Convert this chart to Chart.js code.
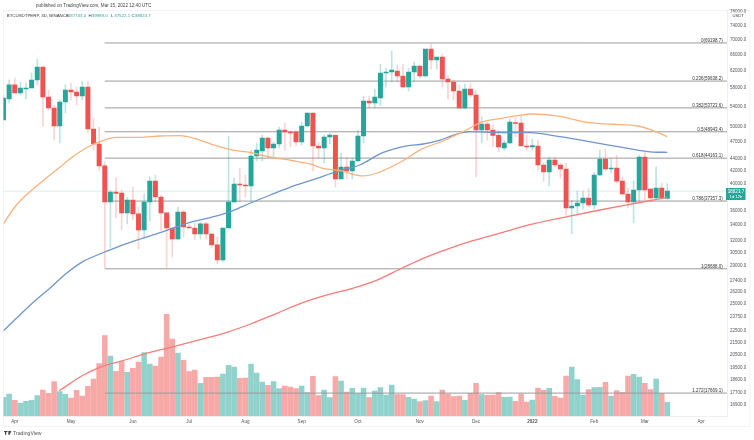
<!DOCTYPE html>
<html>
<head>
<meta charset="utf-8">
<style>
	html, body { margin: 0; padding: 0; background: #fff; overflow: hidden; }
	canvas { display: block; }
</style>
<script src="https://cdn.jsdelivr.net/npm/chart.js@4"></script>
</head>
<body>
<canvas id="bieuDo" width="754" height="440"></canvas>
<script>
// 3D candles, one row per bar
var opens = [51240,55620,58750,56940,57830,58060,59890,63010,56060,53700,50060,54980,57600,57160,56280,58290,49480,46670,42840,37220,38700,38550,35670,37510,35530,33370,37220,40390,37960,35670,33640,32230,35800,33770,33640,32860,34170,32860,31490,29690,33640,37220,39930,39770,39620,44540,45410,47780,45940,46670,49280,48900,48900,47040,50060,52670,46310,45940,47960,48250,40710,42670,42010,43670,48150,55190,54760,55840,61560,61790,62030,60840,58290,61790,63260,60840,67590,64750,65520,60130,59430,57380,53700,57830,56500,49280,50460,49280,48250,45940,46850,50650,50650,46310,46130,46310,43000,41840,43840,43000,42340,36370,36650,37080,37810,36790,41360,44010,42340,42500,40390,38400,37220,39000,44360,39150,37810,39310,37743];
var highs = [56500,59890,60370,59430,59200,61560,65010,63260,57600,54340,55400,58750,59200,58290,59660,59660,51650,49870,43510,39000,40880,39000,37960,39460,36510,38400,41040,41360,38250,35670,33640,36510,36080,34040,34300,34430,34430,32990,32480,33640,48150,40880,42500,41360,45580,46850,48340,47960,47040,49870,50650,49090,49280,50850,52670,52670,47040,48340,48720,48340,45060,44360,44190,49280,56280,56280,57830,63760,62770,67060,63510,63760,62770,64260,63510,67590,68930,65520,66290,61080,59890,58750,58970,59200,57600,51850,50850,50260,49280,47400,51440,51650,52060,48340,47590,47400,43340,44360,44360,43340,43340,37510,38850,38850,39310,41840,45580,45760,44010,44710,41040,39310,40390,44710,45230,39310,42670,40080,39989];
var lows = [51240,54760,56940,56500,55620,58060,58750,50060,53280,47400,46850,52670,55400,54340,55400,48720,45580,42170,28790,31120,34980,33370,34170,34700,30990,32350,34570,37220,33370,28790,30040,32100,32480,33640,32100,32230,32230,31120,29240,29460,33640,37080,37220,37960,37220,43670,43670,44190,44190,45940,45580,46130,46310,46490,49870,42010,44190,43340,46670,39460,40710,40710,40710,43670,46850,53700,53700,54130,58290,59430,59430,58060,57380,59430,60370,60600,62520,62520,58290,55620,55400,53700,53490,56060,41040,46850,47400,46130,45230,45580,46670,47960,46310,45580,45580,42170,40390,39620,42670,40880,35390,32860,35390,36220,36510,36220,41200,42010,41680,40080,38250,36370,34300,37220,37510,37220,37810,37660,37522.1];
var closes = [55840,58750,56940,58060,58060,59890,63010,56060,53700,50060,54980,57600,57160,56280,58290,49480,46670,42840,37220,38700,38480,35670,37510,35530,33370,37220,40390,37960,35670,33640,32230,35800,33770,33640,32860,34170,32860,31490,29690,33640,37220,39930,39770,39620,44540,45580,47780,45940,46670,49280,48900,48720,47040,50060,52670,46310,45940,47960,48340,40710,42670,42010,43670,48150,55190,54760,56060,61560,61790,62270,60840,58290,61790,63260,60840,67590,64750,65520,60130,59430,57380,53700,57830,56500,49280,50460,49280,48250,46130,46850,50850,50550,46310,46130,46370,43000,41840,43840,43000,42340,36370,36650,37080,37810,36790,41360,44010,42340,42500,40390,38400,37220,39000,44360,39000,37810,39310,37810,38823.7];

// volume, no scale on the chart so units are arbitrary
var volumes = [18.7,22,15.7,13,14.7,15.7,20.3,26,22.7,34.3,24.3,21.7,18,25.7,20,29.7,37,52.3,80.3,60,44.7,54.3,43.7,47.7,54,63.3,52,50,59,101.7,77,63,55.7,44.3,46,32.7,38.7,38.7,39,42,50.7,49,37.7,38,52,43,34,30.7,34.3,27.3,30,29,27.3,30,23.3,39.7,20.3,26,18.3,39.3,35,24,27.7,22.7,28,18.3,25,28.3,21,31,21.3,21.3,18.7,17,14.3,15.3,20,14.3,26,22,19.3,20,15.7,22.7,32.7,21.3,20.7,21,23.3,18.7,19,14.7,22,14,16,28,25.7,27.7,19.7,18,40,49,36.3,21,26.3,28.3,28.7,33.7,20,25.3,23.7,40,41.7,39,32.7,26.3,37,22.7,13.7];
var volumeUp = [1,1,0,1,1,1,1,0,0,0,1,1,0,0,0,0,0,0,0,1,0,0,1,0,0,1,1,0,0,0,0,1,0,0,0,1,0,0,0,1,1,1,0,0,1,1,1,0,1,1,0,0,0,1,1,0,0,1,1,0,1,0,1,1,1,0,1,1,1,1,0,0,1,1,0,1,0,1,0,0,0,0,1,0,0,1,0,0,0,1,1,0,0,0,1,0,0,1,0,0,0,1,1,1,0,1,1,0,1,0,0,0,1,1,0,0,1,0,1];

// moving averages at the bends
var ma50Bars = [0,2.3,5.9,9.4,12.3,14.1,15.7,17.1,20.1,24.2,27.8,31.3,34.9,37.9,40.8,43.8,47.4,51.4,54.5,56.8,59.8,63.9,66.4,71,74,78.1,81.7,85.2,88.2,91.3,93.9,98.4,104.2,108.3,112.8,116.2,118];
var ma50Values = [34210,36790,39620,42170,44410,45580,46490,47090,47900,47900,48150,48210,47400,46310,45580,45150,44360,43720,43170,42450,42060,41200,41680,43720,45580,47220,48960,50900,51540,52110,52460,52060,50710,50400,50060,48860,48020];
var ma100Bars = [0,2.9,5.9,8.2,11.2,14.1,17.1,20.1,24.2,27.8,32.6,36.7,39.7,43.8,47.4,50.9,55.7,59.3,63.3,67.4,71.7,74.6,77.6,79.9,82.9,88.2,93.6,98.9,106.6,111.9,115.4,118];
var ma100Values = [22540,23960,25470,26570,28190,29500,30390,31200,32190,33020,34260,35020,35670,37040,38250,39410,40820,41960,43000,45110,46310,46670,47400,48260,48960,48770,48770,48020,46640,45710,45230,45180];
var ma200Bars = [9.9,14.2,17.1,21.2,25.5,29,33.1,39.7,43.8,48.6,53.2,58,62.1,65.7,70.8,74.6,78.8,83.4,88.8,93.4,100.2,106,112.4,118];
var ma200Values = [17830,18960,19540,20050,20640,21040,21540,22400,23110,24120,25140,25980,26590,27280,28750,29880,30950,32010,33070,34040,35150,36080,37040,37890];

// fib retracement
var fibRatios = ['0','0.236','0.382','0.5','0.618','0.786','1','1.272'];
var fibPrices = [69198.7,59638.2,53723.6,48943.4,44163.1,37357.3,28688.0,17669.1];

// axes
var priceTicks = [78000,74000,70000,66000,62000,58000,54000,50000,47000,44000,42000,40000,36000,34000,32000,30500,29000,27400,26200,25000,23750,22500,21500,20500,19500,18600,17700,16900];
var monthLabels = ['Apr','May','Jun','Jul','Aug','Sep','Oct','Nov','Dec','2022','Feb','Mar','Apr'];
var monthBars = [2,12,23,33,43,53,63,74,84,94,105,114,124];

var tenFont = '"Liberation Sans", sans-serif';
var green = '#26a69a';
var red = '#ef5350';
var lastBar = 128.6;
var lastClose = closes[closes.length - 1];

function banGhiMa(bars, values) {
	return bars.map((b, i) => ({ x: b, y: values[i] }));
}

var wickData = highs.map((h, i) => ({ x: i, y: [lows[i], h] }));
var bodyData = opens.map((o, i) => ({ x: i, y: [Math.min(o, closes[i]), Math.max(o, closes[i])] }));
var volumeData = volumes.map((v, i) => ({ x: i, y: v }));
var isUp = opens.map((o, i) => closes[i] >= o);

var datasets = [
	{
		type: 'bar', order: 9, yAxisID: 'yVol', data: volumeData, grouped: false, barThickness: 4.9,
		backgroundColor: volumeUp.map(u => u ? 'rgba(38,166,154,0.5)' : 'rgba(239,83,80,0.5)')
	},
	{
		type: 'bar', order: 5, yAxisID: 'y', data: wickData, grouped: false, barThickness: 1,
		backgroundColor: isUp.map(u => u ? 'rgba(38,166,154,0.3)' : 'rgba(239,83,80,0.25)')
	},
	{
		type: 'bar', order: 4, yAxisID: 'y', data: bodyData, grouped: false, barThickness: 4.3, minBarLength: 1,
		backgroundColor: isUp.map(u => u ? green : red)
	},
	{
		type: 'line', order: 10, yAxisID: 'y', data: [{ x: 0, y: lastClose }, { x: lastBar, y: lastClose }],
		borderColor: 'rgba(38,166,154,0.18)', borderWidth: 1, pointRadius: 0
	},
	{
		type: 'line', order: 1, yAxisID: 'y', data: banGhiMa(ma50Bars, ma50Values),
		borderColor: '#f9b27c', borderWidth: 1.3, pointRadius: 0, cubicInterpolationMode: 'monotone'
	},
	{
		type: 'line', order: 1, yAxisID: 'y', data: banGhiMa(ma100Bars, ma100Values),
		borderColor: '#6f96cf', borderWidth: 1.3, pointRadius: 0, cubicInterpolationMode: 'monotone'
	},
	{
		type: 'line', order: 1, yAxisID: 'y', data: banGhiMa(ma200Bars, ma200Values),
		borderColor: '#f87c78', borderWidth: 1.3, pointRadius: 0, cubicInterpolationMode: 'monotone'
	}
];

fibPrices.forEach(p => {
	datasets.push({
		type: 'line', order: 7, yAxisID: 'y', data: [{ x: 18, y: p }, { x: lastBar, y: p }],
		borderColor: '#9b9b9b', borderWidth: 1, pointRadius: 0
	});
});

function veChu(ctx, text, x, y, color, size, align, bold) {
	ctx.font = (bold ? 'bold ' : '') + size + 'px ' + tenFont;
	ctx.fillStyle = color;
	ctx.textAlign = align || 'left';
	ctx.textBaseline = 'middle';
	ctx.fillText(text, x, y);
}

var veKhung = {
	id: 'veKhung',
	beforeDraw(chart) {
		var ctx = chart.ctx;
		ctx.save();
		ctx.strokeStyle = '#f0f3f6';
		ctx.lineWidth = 1;
		ctx.strokeRect(3.5, 10.5, 746.5, 416);
		ctx.restore();
	},
	afterDraw(chart) {
		var ctx = chart.ctx;
		var y = chart.scales.y;
		var area = chart.chartArea;
		ctx.save();

		veChu(ctx, 'published on TradingView.com, Mar 15, 2022 12:40 UTC', 36, 5.5, '#444', 4.6);

		veChu(ctx, 'BTCUSDTPERP, 3D, BINANCE', 6.7, 16, '#333', 4.4);
		var ohlcLabels = ['O', 'H', 'L', 'C'];
		var ohlcValues = ['37743.0', '39989.0', '37522.1', '38823.7'];
		var ohlcX = [67, 88.5, 111, 131.5];
		ohlcLabels.forEach((t, i) => {
			veChu(ctx, t, ohlcX[i], 16, '#333', 4.4);
			veChu(ctx, ohlcValues[i], ohlcX[i] + 3.2, 16, green, 4.4);
		});

		// fib labels sit just above their lines
		fibPrices.forEach((p, i) => {
			var text = fibRatios[i] + '(' + p.toFixed(1) + ')';
			veChu(ctx, text, 722.7, y.getPixelForValue(p) - 2.5, '#333', 4.5, 'right');
		});

		// USDT box over the top tick
		ctx.fillStyle = '#fff';
		ctx.strokeStyle = '#e6e8ee';
		ctx.lineWidth = 0.5;
		ctx.beginPath();
		ctx.roundRect(730.7, 12.5, 15, 7, 1.5);
		ctx.fill();
		ctx.stroke();
		veChu(ctx, 'USDT', 738.2, 16, '#444', 4.2, 'center');

		// last price badge
		ctx.fillStyle = green;
		ctx.fillRect(area.right - 1, 188, 19.5, 12);
		veChu(ctx, '38823.7', 736, 191.5, '#fff', 4.5, 'center');
		veChu(ctx, '1d 12h', 736, 196.5, '#fff', 4.2, 'center');

		// TradingView mark
		ctx.fillStyle = '#444';
		ctx.fillRect(4, 431, 3.2, 1.1);
		ctx.fillRect(5, 431, 1.2, 3.8);
		ctx.beginPath();
		ctx.arc(8, 431.6, 0.6, 0, Math.PI * 2);
		ctx.fill();
		ctx.beginPath();
		ctx.moveTo(8.6, 431);
		ctx.lineTo(11.4, 431);
		ctx.lineTo(9.6, 434.8);
		ctx.lineTo(8.2, 434.8);
		ctx.fill();
		veChu(ctx, 'TradingView', 13, 433.2, '#555', 5.2);

		ctx.restore();
	}
};

new Chart(document.getElementById('bieuDo').getContext('2d'), {
	type: 'bar',
	data: { datasets: datasets },
	plugins: [veKhung],
	options: {
		responsive: false,
		animation: false,
		layout: { padding: { top: 10, left: 3.5, right: 4, bottom: 14 } },
		plugins: { legend: { display: false }, tooltip: { enabled: false } },
		scales: {
			x: {
				type: 'linear',
				offset: false,
				min: 0,
				max: lastBar,
				grid: { display: false, drawTicks: false, tickLength: 0 },
				border: { display: true, color: '#eceff3' },
				afterFit: s => { s.height = 10; },
				afterBuildTicks: s => { s.ticks = monthBars.map(v => ({ value: v })); },
				ticks: {
					autoSkip: false,
					maxRotation: 0,
					padding: 2.5,
					color: '#555',
					font: c => ({ family: tenFont, size: 4.6, weight: monthLabels[c.index] == '2022' ? 'bold' : 'normal' }),
					callback: v => monthLabels[monthBars.indexOf(v)]
				}
			},
			y: {
				type: 'logarithmic',
				position: 'right',
				min: 16160,
				max: 78690,
				grid: { display: false, drawTicks: false, tickLength: 0 },
				border: { display: true, color: '#eceff3' },
				afterFit: s => { s.width = 23; },
				afterBuildTicks: s => { s.ticks = priceTicks.map(v => ({ value: v })); },
				ticks: {
					autoSkip: false,
					padding: 3,
					color: '#555',
					font: { family: tenFont, size: 4.5 },
					callback: v => v.toFixed(1)
				}
			},
			yVol: {
				type: 'linear',
				display: false,
				min: 0,
				max: 406
			}
		}
	}
});
</script>
</body>
</html>
